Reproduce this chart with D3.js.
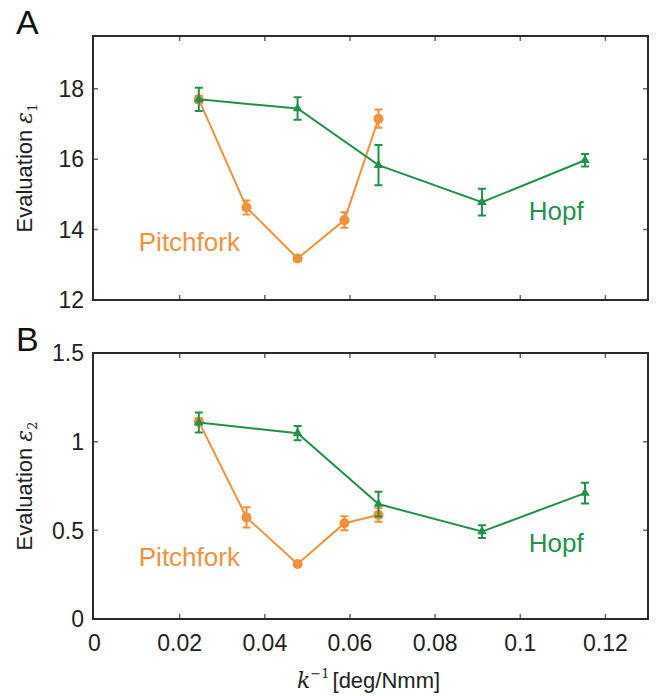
<!DOCTYPE html>
<html>
<head>
<meta charset="utf-8">
<script src="https://cdn.jsdelivr.net/npm/d3@7"></script>
<style>
body { margin: 0; background: #fff; }
svg text { font-family: "Liberation Sans", Arial, sans-serif; }
</style>
</head>
<body>
<div id="chart"></div>
<script>
// x values (k^-1, deg/Nmm)
var pitchX = [0.0245, 0.0357, 0.0477, 0.0587, 0.0667];
var hopfX = [0.0245, 0.0477, 0.0667, 0.0910, 0.1152];

// panel A: evaluation eps1
var pitchE1 = [17.7, 14.63, 13.18, 14.27, 17.15];
var pitchE1Err = [0.1, 0.2, 0.08, 0.22, 0.26];
var hopfE1 = [17.7, 17.44, 15.83, 14.78, 15.97];
var hopfE1Err = [0.33, 0.32, 0.57, 0.38, 0.18];

// panel B: evaluation eps2
var pitchE2 = [1.113, 0.573, 0.31, 0.54, 0.587];
var pitchE2Err = [0.02, 0.057, 0.01, 0.04, 0.038];
var hopfE2 = [1.108, 1.048, 0.648, 0.493, 0.71];
var hopfE2Err = [0.056, 0.04, 0.07, 0.036, 0.058];

var xTicks = [0, 0.02, 0.04, 0.06, 0.08, 0.1, 0.12];
var yTicksA = [12, 14, 16, 18];
var yTicksB = [0, 0.5, 1, 1.5];

var orange = "#f2913a";
var green = "#23914b";

var W = 667, H = 696;
var left = 93, right = 648;

var svg = d3.select("#chart").append("svg")
	.attr("width", W).attr("height", H);

var x = d3.scaleLinear().domain([0, 0.13]).range([left + 1.5, right]);

function panel(top, bottom, yDomain, yTicks, yFmt, pY, pErr, hY, hErr, letter, sub, labels, showX) {
	var y = d3.scaleLinear().domain(yDomain).range([bottom, top]);
	var g = svg.append("g");

	// inner ticks on all four sides
	var tk = 5;
	g.selectAll(".xt").data(xTicks.slice(1)).enter().append("path")
		.attr("d", function(d) { return "M" + x(d) + "," + bottom + "v" + (-tk) + "M" + x(d) + "," + top + "v" + tk; })
		.attr("stroke", "#666").attr("stroke-width", 1.5);
	g.selectAll(".yt").data(yTicks).enter().append("path")
		.attr("d", function(d) { return "M" + left + "," + y(d) + "h" + tk + "M" + right + "," + y(d) + "h" + (-tk); })
		.attr("stroke", "#666").attr("stroke-width", 1.5);

	g.append("rect")
		.attr("x", left).attr("y", top)
		.attr("width", right - left).attr("height", bottom - top)
		.attr("fill", "none").attr("stroke", "#2b2b2b").attr("stroke-width", 2);

	g.selectAll(".yl").data(yTicks).enter().append("text")
		.attr("x", left - 9).attr("y", function(d) { return y(d); })
		.attr("dy", "0.36em").attr("text-anchor", "end")
		.attr("font-size", 23).attr("fill", "#222")
		.text(yFmt);

	if (showX) {
		g.selectAll(".xl").data(xTicks).enter().append("text")
			.attr("x", function(d) { return x(d); }).attr("y", bottom + 32)
			.attr("text-anchor", "middle")
			.attr("font-size", 23).attr("fill", "#222")
			.text(function(d) { return d; });
	}

	// y title
	var yt = g.append("text")
		.attr("transform", "translate(32," + ((top + bottom) / 2) + ") rotate(-90)")
		.attr("text-anchor", "middle").attr("font-size", 22).attr("fill", "#222");
	yt.append("tspan").text("Evaluation ");
	yt.append("tspan").attr("font-family", "DejaVu Serif, serif").attr("font-style", "italic").text("ε");
	yt.append("tspan").attr("font-family", "DejaVu Serif, serif").attr("font-size", 13).attr("dy", 5).text(sub);

	// panel letter
	svg.append("text").attr("x", 16).attr("y", top - 2)
		.attr("font-size", 34).attr("fill", "#111").text(letter);

	function series(xs, ys, es, color, marker) {
		var line = d3.line().x(function(d, i) { return x(xs[i]); }).y(function(d) { return y(d); });
		g.append("path").datum(ys).attr("d", line)
			.attr("fill", "none").attr("stroke", color).attr("stroke-width", 2);
		var pts = g.selectAll(null).data(ys).enter().append("g")
			.attr("transform", function(d, i) { return "translate(" + x(xs[i]) + "," + y(d) + ")"; });
		pts.append("path")
			.attr("d", function(d, i) {
				var a = y(d + es[i]) - y(d), b = y(d - es[i]) - y(d);
				return "M-4," + a + "h8M0," + a + "V" + b + "M-4," + b + "h8";
			})
			.attr("stroke", color).attr("stroke-width", 2).attr("fill", "none");
		if (marker === "circle") {
			pts.append("circle").attr("r", 5).attr("fill", color);
		} else {
			pts.append("path").attr("d", d3.symbol(d3.symbolTriangle, 40)).attr("fill", color);
		}
	}
	series(pitchX, pY, pErr, orange, "circle");
	series(hopfX, hY, hErr, green, "triangle");

	g.append("text").attr("x", x(labels[0][0])).attr("y", y(labels[0][1]))
		.attr("font-size", 26).attr("fill", orange).text("Pitchfork");
	g.append("text").attr("x", x(labels[1][0])).attr("y", y(labels[1][1]))
		.attr("font-size", 26).attr("fill", green).text("Hopf");
}

panel(36, 300, [12, 19.5], yTicksA, function(d) { return d; }, pitchE1, pitchE1Err, hopfE1, hopfE1Err,
	"A", "1", [[0.0104, 13.4], [0.102, 14.27]], false);
panel(353, 619, [0, 1.5], yTicksB, function(d) { return d; }, pitchE2, pitchE2Err, hopfE2, hopfE2Err,
	"B", "2", [[0.0104, 0.3], [0.102, 0.38]], true);

// x title
var xt = svg.append("text").attr("x", 297).attr("y", 688).attr("font-size", 22).attr("fill", "#222");
xt.append("tspan").attr("font-family", "DejaVu Serif, serif").attr("font-style", "italic").text("k");
xt.append("tspan").attr("font-family", "DejaVu Serif, serif").attr("font-size", 13).attr("dy", -10).text("−1");
xt.append("tspan").attr("dy", 10).attr("dx", 3).text("[deg/Nmm]");
</script>
</body>
</html>
